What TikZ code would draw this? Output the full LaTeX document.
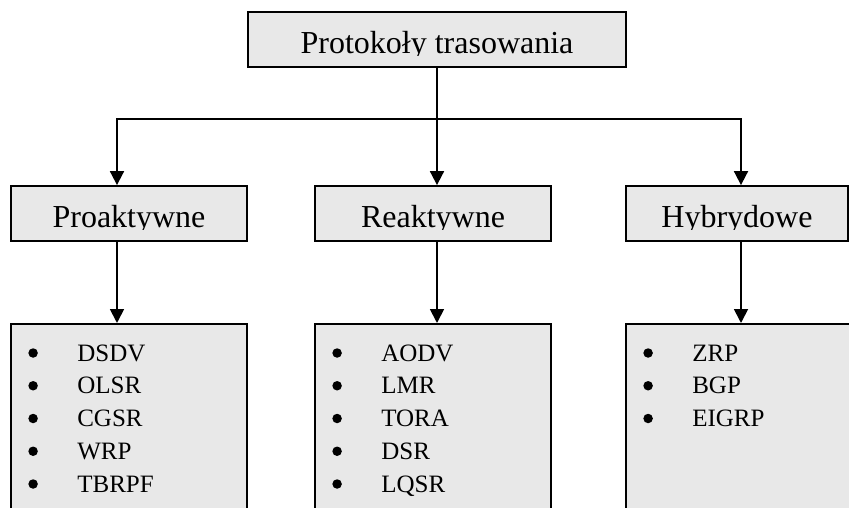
\documentclass[tikz,border=0pt]{standalone}
\usepackage{fontspec}
\setmainfont{Liberation Serif}
\usetikzlibrary{arrows.meta}
\definecolor{boxgray}{RGB}{232,232,232}

\newcommand\itmfont{\fontsize{25}{30}\selectfont}

\tikzset{
  box/.style={draw, fill=boxgray, line width=1.8pt, inner sep=0pt},
  hdr/.style={box, minimum width=236, minimum height=55},
  lst/.style={box, minimum width=236, minimum height=215, anchor=north},
  lbl/.style={font=\fontsize{32}{38}\selectfont, inner sep=0pt, anchor=base},
  itm/.style={inner sep=0pt},
  dot/.style={circle, fill=black, inner sep=0pt, minimum size=9.5pt},
  arr/.style={line width=1.8pt, -{Triangle[length=14pt,width=14pt]}}
}

% label sitting low in its box, cut at the baseline
\newcommand\cliplabel[2]{%
  \begin{scope}
    \clip (#1.north west) rectangle ([yshift=12pt]#1.south east);
    \node[lbl] (#1-t) at ([yshift=14pt]#1.south) {#2};
  \end{scope}}

\begin{document}
\begin{tikzpicture}[x=1pt,y=-1pt]
  \useasboundingbox (0,0) rectangle (849,508);

  % boxes
  \node[box, minimum width=378, minimum height=55] (top) at (437,39.5) {};
  \node[hdr] (pro) at (129,213.5) {};
  \node[hdr] (rea) at (433,213.5) {};
  \node[hdr, minimum width=222] (hyb) at (737,213.5) {};

  \node[lst] (prolist) at (129,323) {};
  \node[lst] (realist) at (433,323) {};
  \node[lst] (hyblist) at (744,323) {};

  \cliplabel{top}{Protokoły trasowania}
  \cliplabel{pro}{Proaktywne}
  \cliplabel{rea}{Reaktywne}
  \cliplabel{hyb}{Hybrydowe}

  % lists
  \foreach \n/\l in {prolist/{DSDV,OLSR,CGSR,WRP,TBRPF},
                     realist/{AODV,LMR,TORA,DSR,LQSR},
                     hyblist/{ZRP,BGP,EIGRP}}
  {
    \foreach \it [count=\i from 0] in \l
    {
      \node[dot] (\n-b\i) at ([xshift=23pt, yshift={-30pt-32.75pt*\i}]\n.north west) {};
      \node[itm, anchor=base west] (\n-\i) at ([xshift=67pt, yshift={-38pt-32.75pt*\i}]\n.north west) {\itmfont\it};
    }
  }

  % connectors
  \coordinate (jn) at (437,119);
  \draw[arr] (top.south) -- (jn |- rea.north);
  \draw[arr] (jn) -| ([xshift=-12pt]pro.north);
  \draw[arr] (jn) -| ([xshift=4pt]hyb.north);

  \draw[arr] ([xshift=-12pt]pro.south) -- ([xshift=-12pt]pro.south |- prolist.north);
  \draw[arr] ([xshift=4pt]rea.south) -- ([xshift=4pt]rea.south |- realist.north);
  \draw[arr] ([xshift=4pt]hyb.south) -- ([xshift=4pt]hyb.south |- hyblist.north);
\end{tikzpicture}
\end{document}
